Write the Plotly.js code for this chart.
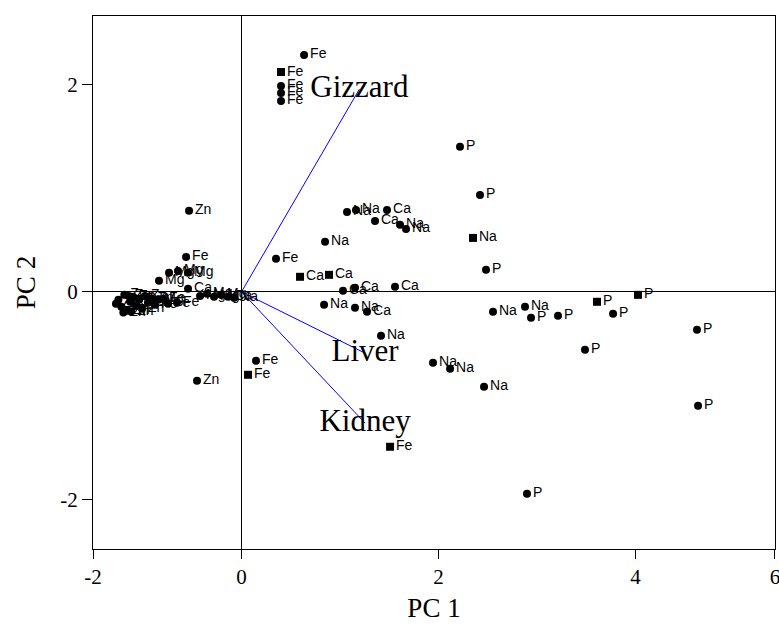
<!DOCTYPE html>
<html>
<head>
<meta charset="utf-8">
<script src="https://cdn.plot.ly/plotly-3.0.1.min.js"></script>
<style>html,body{margin:0;padding:0;background:#fff;}#chart{width:779px;height:626px;}</style>
</head>
<body>
<div id="chart"></div>
<script>
// Sample scores (PC1, PC2) with element labels
const pointLabels = [
  'Fe','Fe','Fe','Fe','Fe',
  'P','P','Na','P','Na','Na','P','P','P','P','P','P','P','Na','P','P',
  'Na','Na','Na','Fe','Fe','Zn','Fe','Na','Na','Ca','Ca','Na','Na','Na','Ca','Ca','Ca','Ca','Ca','Na','Na','Ca','Fe',
  'Zn','Fe','Mg','Mg','Mg','Mg','Ca','Mg','Mg','Mg','Mg','Ca','Na','Fe','Fe','Fe',
  'Zn','Zn','Zn','Zn','Zn','Zn','Zn','Zn','Zn','Zn','Zn','Zn','Fe','Mg','Zn','Zn','Zn','Zn'
];
const pc1 = [
  0.635,0.401,0.401,0.401,0.401,
  2.218,2.421,2.350,2.482,2.553,2.878,2.939,3.213,3.609,3.772,4.025,4.624,3.487,2.462,4.635,2.898,
  1.416,1.944,2.117,0.147,0.066,-0.452,1.508,1.071,1.162,1.477,1.355,1.609,1.670,0.848,0.594,0.888,1.030,1.152,1.558,0.838,1.152,1.274,0.350,
  -0.533,-0.563,-0.838,-0.736,-0.645,-0.543,-0.543,-0.421,-0.350,-0.279,-0.208,-0.137,-0.076,-0.746,-0.655,-0.797,
  -1.250,-1.220,-1.190,-1.160,-1.130,-1.100,-1.070,-1.040,-1.010,-0.980,-0.950,-0.915,-0.880,-0.845,-1.275,-1.145,-1.200,-1.120
];
const pc2 = [
  2.284,2.120,1.986,1.918,1.841,
  1.398,0.935,0.520,0.212,-0.193,-0.145,-0.251,-0.231,-0.096,-0.212,-0.029,-0.366,-0.559,-0.916,-1.099,-1.947,
  -0.424,-0.684,-0.742,-0.665,-0.800,-0.858,-1.494,0.771,0.790,0.790,0.684,0.646,0.607,0.482,0.145,0.164,0.010,0.039,0.048,-0.125,-0.154,-0.193,0.318,
  0.781,0.337,0.106,0.183,0.202,0.183,0.029,-0.039,-0.019,-0.048,-0.029,-0.048,-0.058,-0.116,-0.106,-0.067,
  -0.077,-0.145,-0.029,-0.183,-0.096,-0.048,-0.135,-0.077,-0.164,-0.039,-0.106,-0.067,-0.125,-0.077,-0.116,-0.039,-0.200,-0.190
];
const markerShapes = [
  'circle','square','circle','circle','circle',
  'circle','circle','square','circle','circle','circle','circle','circle','square','circle','square','circle','circle','circle','circle','circle',
  'circle','circle','circle','circle','square','circle','square','circle','circle','circle','circle','circle','circle','circle','square','square','circle','circle','circle','circle','circle','circle','circle',
  'circle','circle','circle','circle','circle','circle','circle','circle','circle','circle','circle','circle','circle','circle','circle','circle',
  'circle','circle','circle','circle','circle','circle','circle','circle','circle','circle','circle','circle','circle','circle','circle','circle','circle','circle'
];

// Loading vectors (organs)
const loadNames = ['Gizzard','Liver','Kidney'];
const loadPC1 = [1.196, 1.254, 1.254];
const loadPC2 = [1.954, -0.591, -1.266];

// Axis tick labels
const yTicks = [-2, 0, 2];
const yTickText = ['-2','0','2'];
const xTickText = ['-2','0','2','4','6'];
const xRange = [-1.508, 5.416];
const yRange = [-2.48, 2.66];

const traces = [];
loadNames.forEach((n, i) => {
  traces.push({
    x: [0, loadPC1[i]], y: [0, loadPC2[i]],
    mode: 'lines', type: 'scatter',
    line: {color: '#0000ff', width: 1},
    hoverinfo: 'skip', showlegend: false
  });
});
traces.push({
  x: pc1, y: pc2, text: pointLabels,
  mode: 'markers+text', type: 'scatter',
  textposition: 'middle right',
  textfont: {family: 'Liberation Sans, Arial, sans-serif', size: 14, color: '#000'},
  marker: {color: '#000', size: 8, symbol: markerShapes},
  cliponaxis: false, showlegend: false
});
traces.push({
  x: loadPC1, y: loadPC2, text: loadNames,
  mode: 'text', type: 'scatter',
  textposition: 'middle center',
  textfont: {family: 'Liberation Serif, Times New Roman, serif', size: 31, color: '#000'},
  showlegend: false
});

const xTickVals = [xRange[0] + 0.001, 0, 2, 4, xRange[1] - 0.001];

const layout = {
  width: 779, height: 626,
  margin: {l: 93, r: 4, t: 16, b: 77},
  paper_bgcolor: '#fff', plot_bgcolor: '#fff',
  showlegend: false,
  xaxis: {
    range: xRange, tickmode: 'array', tickvals: xTickVals, ticktext: xTickText,
    ticklabeloverflow: 'allow',
    showgrid: false, zeroline: true, zerolinecolor: '#000', zerolinewidth: 1,
    showline: true, linecolor: '#000', linewidth: 1, mirror: true,
    ticks: 'outside', ticklen: 9, tickcolor: '#000', tickwidth: 1,
    tickfont: {family: 'Liberation Serif, Times New Roman, serif', size: 21, color: '#000'},
    title: {text: 'PC 1', font: {family: 'Liberation Serif, Times New Roman, serif', size: 27, color: '#000'}, standoff: 9}
  },
  yaxis: {
    range: yRange, tickmode: 'array', tickvals: yTicks, ticktext: yTickText,
    showgrid: false, zeroline: true, zerolinecolor: '#000', zerolinewidth: 1,
    showline: true, linecolor: '#000', linewidth: 1, mirror: true,
    ticks: 'outside', ticklen: 10, tickcolor: '#000', tickwidth: 1,
    tickfont: {family: 'Liberation Serif, Times New Roman, serif', size: 21, color: '#000'},
    title: {text: 'PC 2', font: {family: 'Liberation Serif, Times New Roman, serif', size: 27, color: '#000'}, standoff: 16}
  }
};

Plotly.newPlot('chart', traces, layout, {displayModeBar: false, staticPlot: true});
</script>
</body>
</html>
